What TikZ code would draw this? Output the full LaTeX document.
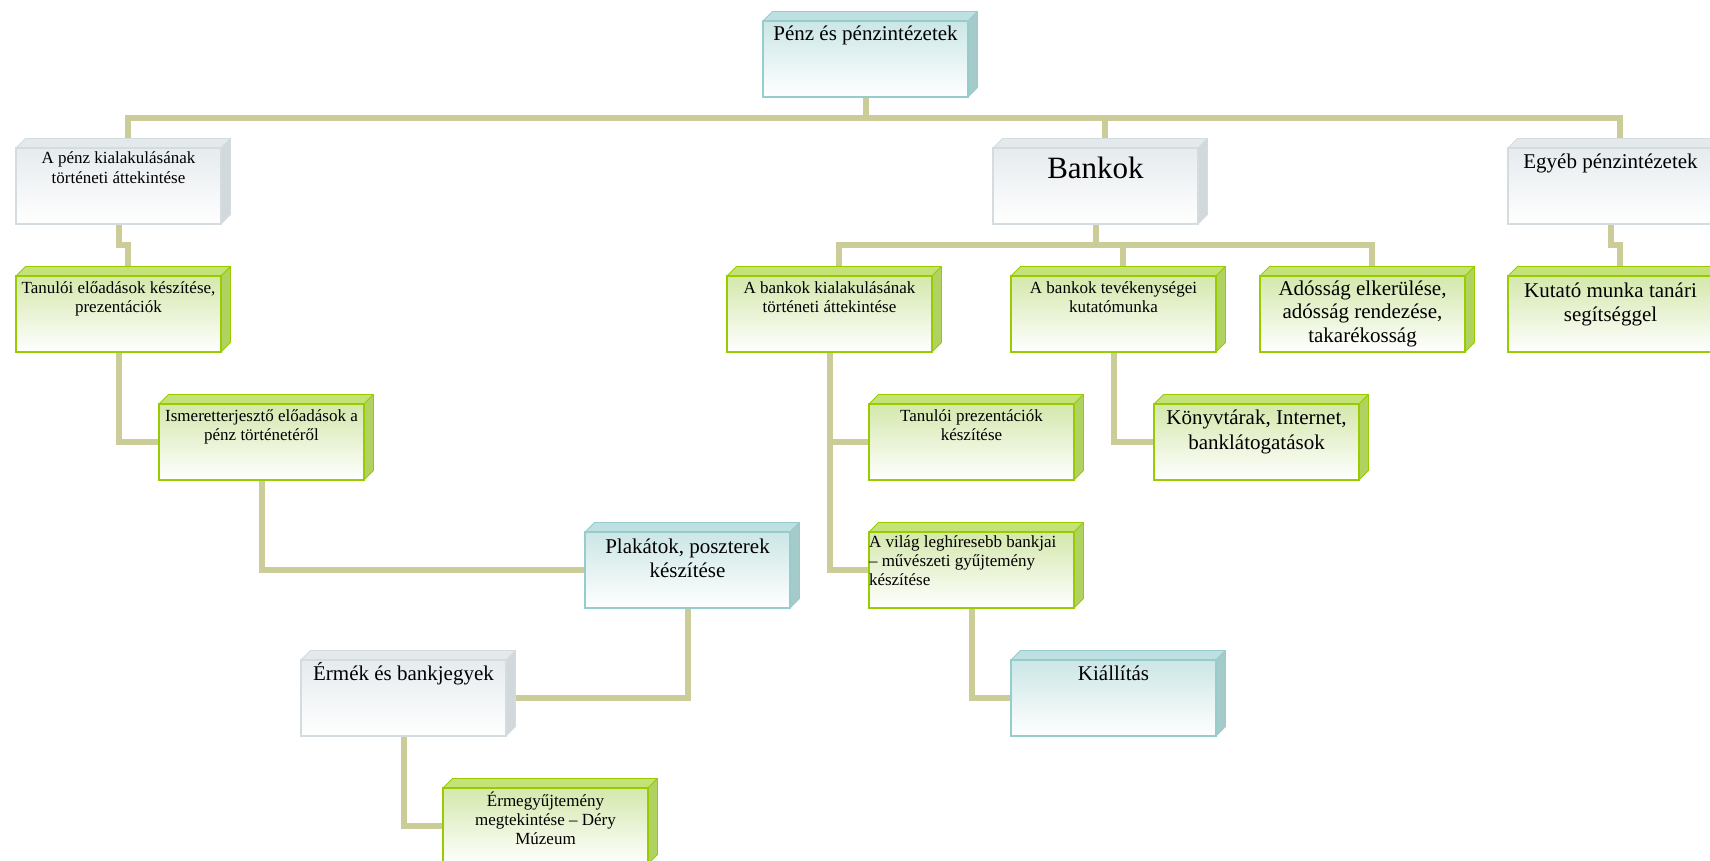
\documentclass[tikz,border=0pt]{standalone}
\usepackage{fontspec}
\setmainfont{Liberation Serif}
\usetikzlibrary{backgrounds}
\definecolor{cconn}{RGB}{204,204,153}
\definecolor{grEdge}{RGB}{153,204,0}
\definecolor{grTop}{RGB}{212,232,172}
\definecolor{grBev}{RGB}{196,226,120}
\definecolor{grSide}{RGB}{176,210,96}
\definecolor{blEdge}{RGB}{150,204,204}
\definecolor{blTop}{RGB}{204,230,230}
\definecolor{blBev}{RGB}{190,224,224}
\definecolor{blSide}{RGB}{164,202,202}
\definecolor{gyEdge}{RGB}{212,220,224}
\definecolor{gyTop}{RGB}{230,235,238}
\definecolor{gyBev}{RGB}{228,233,236}
\definecolor{gySide}{RGB}{210,217,220}
\tikzset{
  frontgr/.style={draw=grEdge, line width=1.8pt, top color=grTop, middle color=grTop!55!white, bottom color=white, inner sep=0pt, outer sep=0pt},
  frontbl/.style={draw=blEdge, line width=1.8pt, top color=blTop, middle color=blTop!55!white, bottom color=white, inner sep=0pt, outer sep=0pt},
  frontgy/.style={draw=gyEdge, line width=1.8pt, top color=gyTop, middle color=gyTop!55!white, bottom color=white, inner sep=0pt, outer sep=0pt},
  connline/.style={draw=cconn, line width=6pt, line join=miter},
}
% name, x, y, kind, font size, baselineskip, first baseline offset, text
\newcommand{\tdbox}[8]{%
  \fill[#4Bev, draw=#4Edge, line width=0.8pt, line join=round] (#2,#3) -- ++(9.5,-9.5) -- ++(205,0) -- ++(-9.5,9.5) -- cycle;
  \fill[#4Side, draw=#4Edge, line width=0.8pt, line join=round] (#2+205,#3) -- ++(9.5,-9.5) -- ++(0,76) -- ++(-9.5,9.5) -- cycle;
  \node[front#4, anchor=north west] (#1) at (#2,#3) {\parbox[c][76pt][t]{205pt}{\fontsize{#5pt}{#6pt}\selectfont\centering\rule{0pt}{#7pt}#8}};
}
\begin{document}
\begin{tikzpicture}[x=1pt,y=-1pt]
\useasboundingbox (0,0) rectangle (1710,861);
\tdbox{title}{763}{21}{bl}{21}{24}{20}{Pénz és pénzintézetek}
\tdbox{A}{16}{148}{gy}{17}{19.5}{16}{A pénz kialakulásának\\történeti áttekintése}
\tdbox{Bankok}{993}{148}{gy}{31}{35}{31}{Bankok}
\tdbox{Egyeb}{1508}{148}{gy}{21}{24}{21}{Egyéb pénzintézetek}
\tdbox{Tan}{16}{276}{gr}{17}{19.5}{17}{Tanulói előadások készítése,\\prezentációk}
\tdbox{Bk1}{727}{276}{gr}{17}{19.5}{17}{A bankok kialakulásának\\történeti áttekintése}
\tdbox{Bk2}{1011}{276}{gr}{17}{19.5}{17}{A bankok tevékenységei\\kutatómunka}
\tdbox{Bk3}{1260}{276}{gr}{21}{23.5}{19}{Adósság elkerülése,\\adósság rendezése,\\takarékosság}
\tdbox{Kut}{1508}{276}{gr}{21}{24.5}{21}{Kutató munka tanári\\segítséggel}
\tdbox{Ism}{159}{404}{gr}{17}{19.5}{17}{Ismeretterjesztő előadások a\\pénz történetéről}
\tdbox{TP}{869}{404}{gr}{17}{19.5}{17}{Tanulói prezentációk\\készítése}
\tdbox{Konyv}{1154}{404}{gr}{21}{25}{20}{Könyvtárak, Internet,\\banklátogatások}
\tdbox{Plak}{585}{532}{bl}{21}{24}{21}{Plakátok, poszterek\\készítése}
\tdbox{Vilag}{869}{532}{gr}{17}{19}{15}{\raggedright A világ leghíresebb bankjai\\– művészeti gyűjtemény\\készítése}
\tdbox{Ermek}{301}{660}{gy}{21}{24}{20}{Érmék és bankjegyek}
\tdbox{Kiall}{1011}{660}{bl}{21}{24}{20}{Kiállítás}
\tdbox{Ermegy}{443}{788}{gr}{17}{19}{18}{Érmegyűjtemény\\megtekintése – Déry\\Múzeum}
\begin{scope}[on background layer]
\fill[white] (0,0) rectangle (1710,861);
\draw[connline] (title.south) -- ++(0,21) coordinate (tb);
\draw[connline] ([xshift=9pt]A.north) |- (tb) -| ([xshift=9pt]Egyeb.north);
\draw[connline] (tb) -| ([xshift=9pt]Bankok.north);
\draw[connline] (A.south) -- ++(0,21) -| ([xshift=9pt]Tan.north);
\draw[connline] (Egyeb.south) -- ++(0,21) -| ([xshift=9pt]Kut.north);
\draw[connline] (Bankok.south) -- ++(0,21) coordinate (bb);
\draw[connline] ([xshift=9pt]Bk1.north) |- (bb) -| ([xshift=9pt]Bk3.north);
\draw[connline] (bb) -| ([xshift=9pt]Bk2.north);
\draw[connline] (Tan.south) |- (Ism.west);
\draw[connline] (Ism.south) |- (Plak.west);
\draw[connline] (Plak.south) |- (Ermek.east);
\draw[connline] (Ermek.south) |- (Ermegy.west);
\draw[connline] (Bk1.south) |- (TP.west);
\draw[connline] (Bk1.south) |- (Vilag.west);
\draw[connline] (Bk2.south) |- (Konyv.west);
\draw[connline] (Vilag.south) |- (Kiall.west);
\end{scope}
\end{tikzpicture}
\end{document}
